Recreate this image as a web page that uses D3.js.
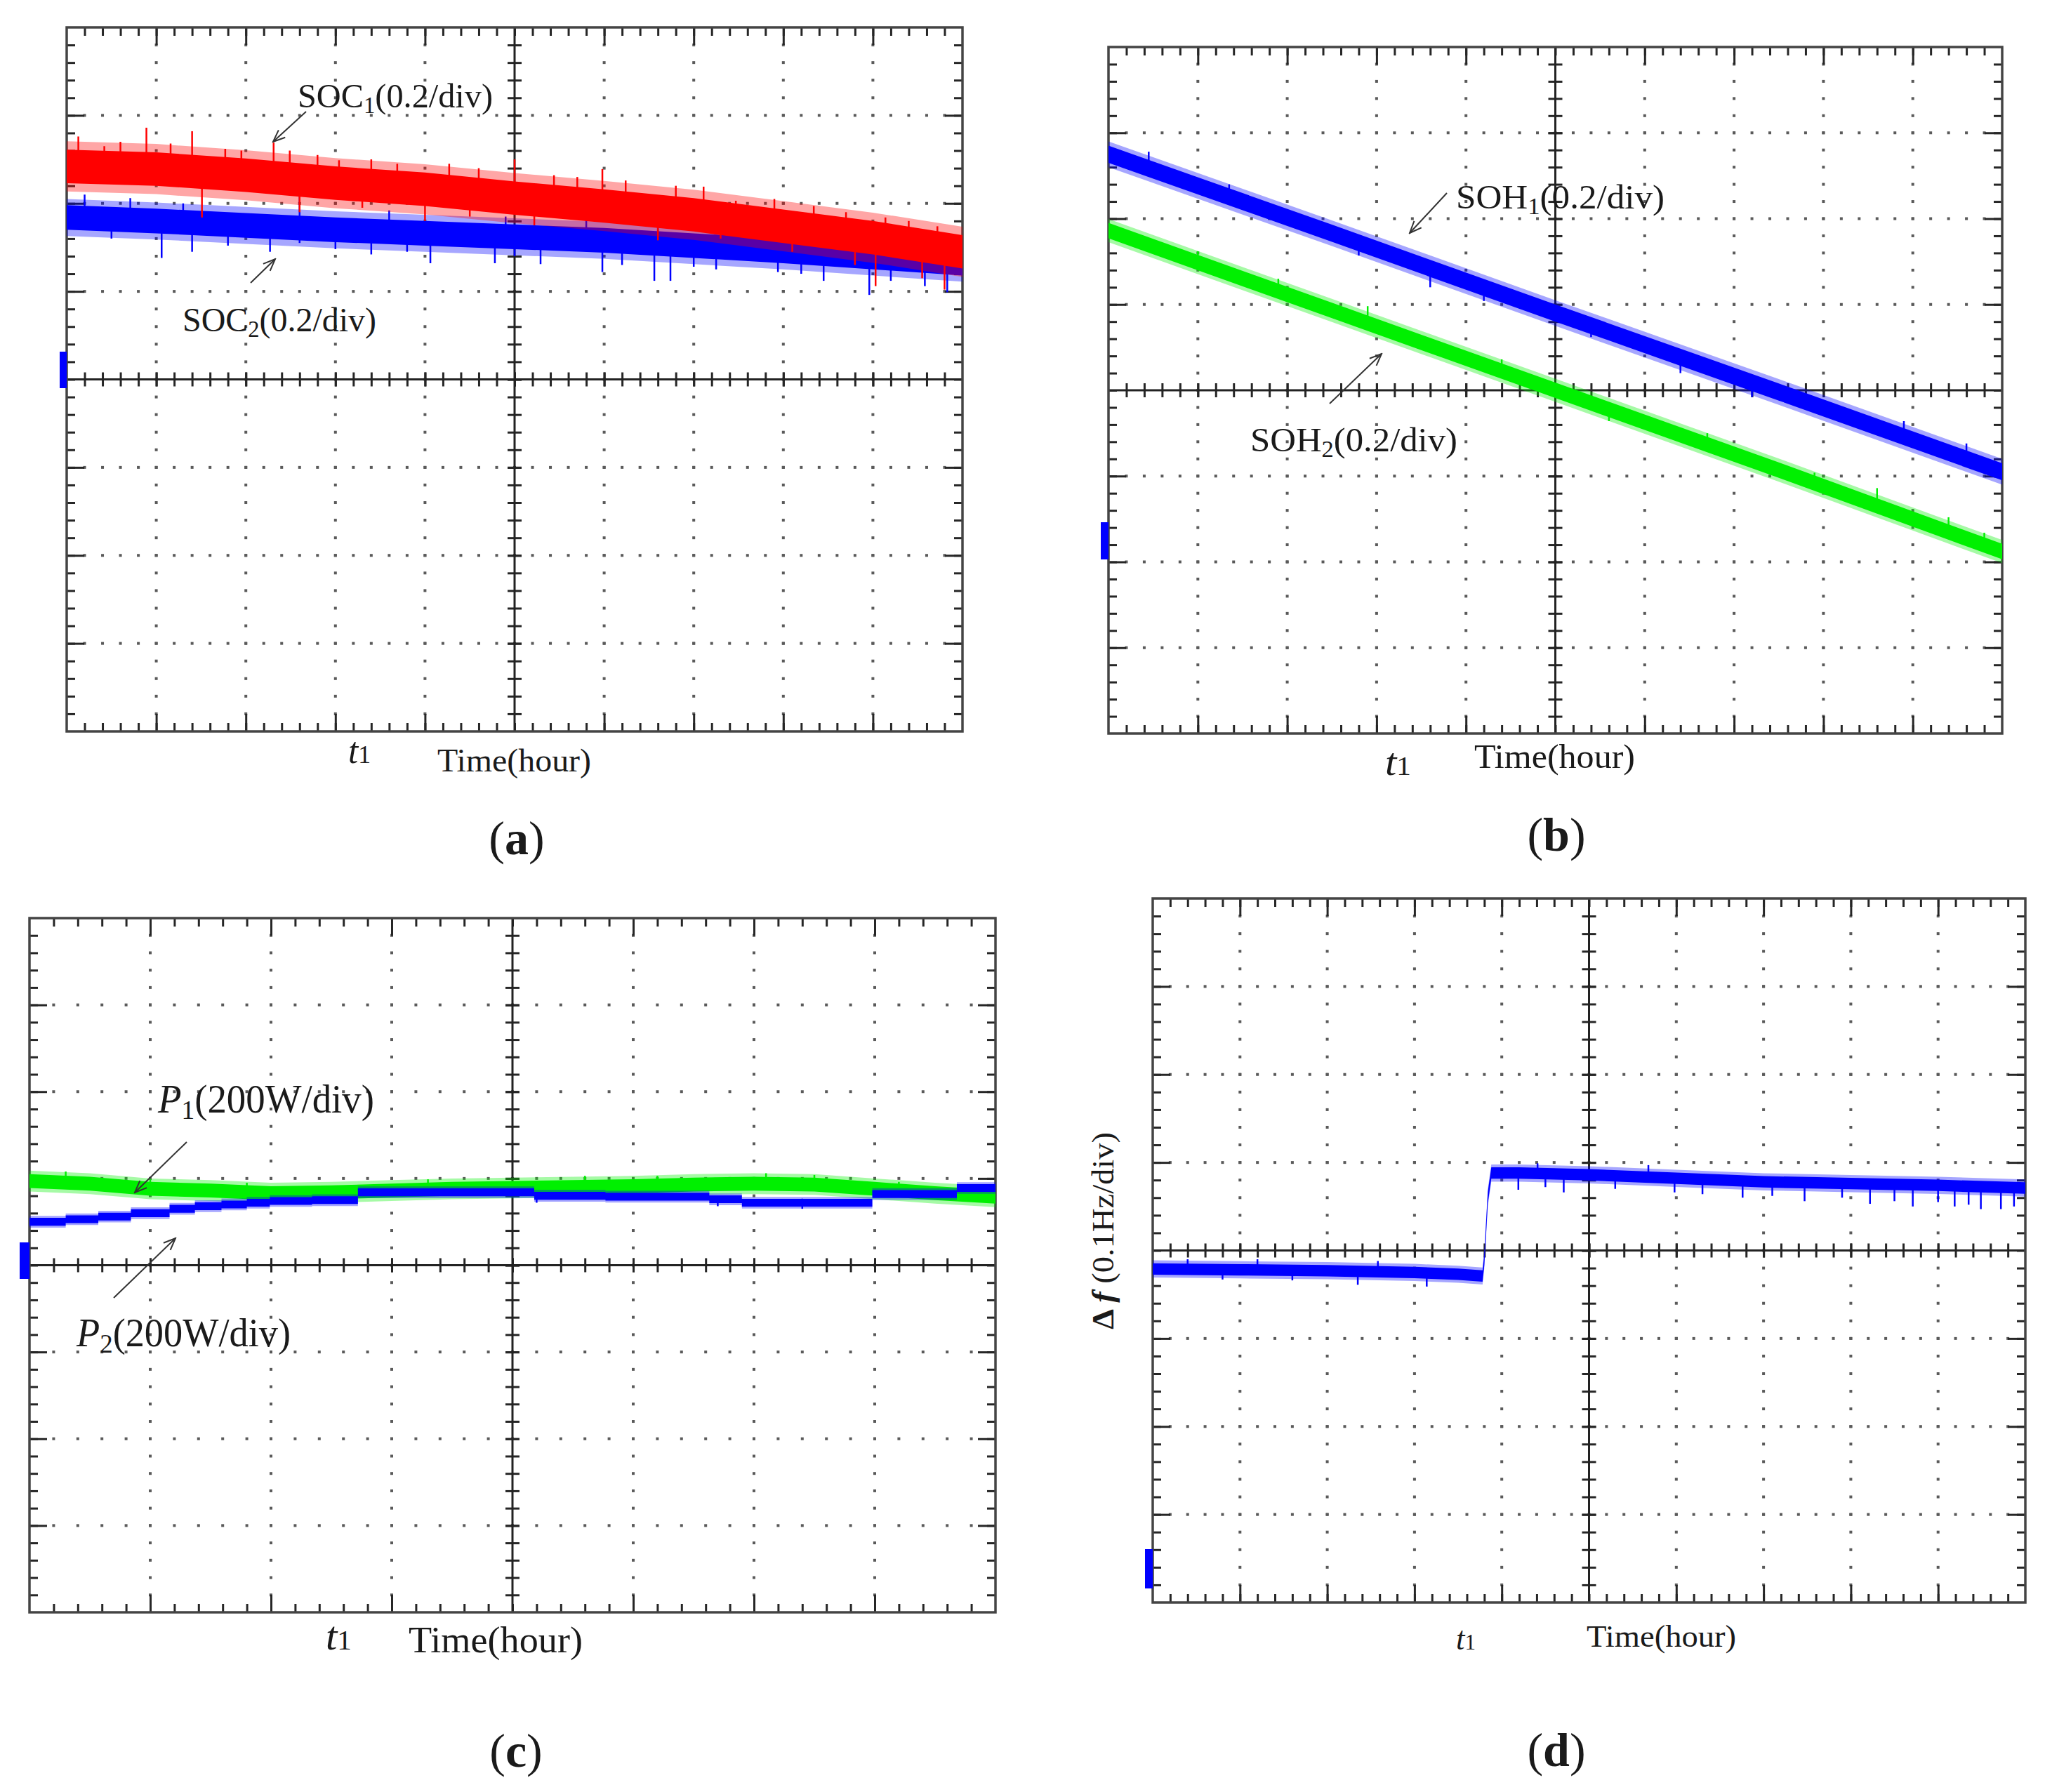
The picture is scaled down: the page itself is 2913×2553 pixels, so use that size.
<!DOCTYPE html>
<html>
<head>
<meta charset="utf-8">
<script src="https://cdn.jsdelivr.net/npm/d3@7"></script>
<style>
  body { margin: 0; background: #ffffff; }
  .tick line { stroke: #262626; stroke-width: 3; }
  text { font-family: 'Liberation Serif', 'Times New Roman', serif; fill: #1a1a1a; }
</style>
</head>
<body>
<div id="chart"></div>
<script>
// all trace values are in scope divisions, measured from the centre line

// (a) state of charge
const socTime = [0, 1, 2, 3, 4, 5, 6, 7, 8, 9, 10]
const soc1 = [2.42, 2.39, 2.32, 2.23, 2.16, 2.06, 1.97, 1.87, 1.74, 1.61, 1.45]
const soc2 = [1.84, 1.8, 1.75, 1.7, 1.66, 1.62, 1.58, 1.52, 1.46, 1.39, 1.32]
const soc1Spikes = [
  [0.13, 2.76], [0.42, 2.65], [0.89, 2.86], [1.16, 2.68], [1.4, 2.82], [1.77, 2.62],
  [2.31, 2.69], [2.49, 2.6], [3.04, 2.49], [3.69, 2.45], [4.27, 2.45], [5.0, 2.5],
  [5.44, 2.32], [5.98, 2.39], [6.24, 2.26], [7.11, 2.19], [7.47, 2.03], [8.34, 1.97],
  [9.14, 1.84], [9.72, 1.74], [1.51, 1.84], [2.6, 1.9], [4.0, 1.8], [5.22, 1.75],
  [6.6, 1.58], [9.03, 1.06], [9.8, 1.02], [0.6, 2.7], [1.95, 2.6], [2.8, 2.55],
  [3.4, 2.5], [4.6, 2.4], [5.7, 2.3], [6.8, 2.2], [7.9, 2.05], [8.7, 1.9], [9.4, 1.8],
  [3.3, 1.95], [4.5, 1.85], [7.3, 1.6], [8.1, 1.45], [8.8, 1.3], [9.55, 1.15],
]
const soc2Spikes = [
  [1.06, 1.38], [1.4, 1.45], [2.27, 1.45], [2.6, 1.55], [3.4, 1.42], [4.06, 1.32],
  [4.78, 1.32], [5.29, 1.31], [5.98, 1.22], [6.56, 1.12], [6.74, 1.12], [7.25, 1.25],
  [7.94, 1.22], [8.45, 1.12], [8.96, 0.96], [9.58, 1.06], [9.83, 0.99], [0.2, 2.1],
  [0.71, 2.06], [2.6, 2.1], [5.8, 1.9], [6.6, 1.97], [7.68, 1.74], [0.5, 1.6],
  [1.8, 1.52], [3.0, 1.48], [3.8, 1.45], [5.0, 1.4], [6.2, 1.3], [7.0, 1.28],
  [8.2, 1.2], [9.2, 1.12], [1.3, 2.0], [3.6, 1.92], [4.9, 1.85],
]

// (b) state of health
const sohTime = [0, 2.5, 5, 7.5, 10]
const soh1 = [2.75, 1.83, 0.9, -0.02, -0.95]
const soh2 = [1.86, 0.93, 0.0, -0.93, -1.88]
const soh1Spikes = [
  [0.45, 2.78], [1.35, 2.4], [2.8, 1.57], [3.6, 1.2], [4.2, 1.04], [5.4, 0.62],
  [6.4, 0.2], [7.2, -0.08], [8.9, -0.36], [9.6, -0.62],
]
const soh2Spikes = [
  [1.0, 1.62], [1.9, 1.3], [2.9, 0.98], [4.4, 0.36], [5.6, -0.36], [6.7, -0.5],
  [7.9, -0.96], [8.6, -1.14], [9.4, -1.48], [9.8, -1.66],
]

// (c) output power
const p1Time = [0, 0.5, 1, 1.5, 2, 2.5, 3, 3.5, 4, 4.5, 5, 5.5, 6, 6.5, 7, 7.5, 8]
const p1 = [0.97, 0.94, 0.88, 0.86, 0.83, 0.84, 0.86, 0.88, 0.89, 0.9, 0.91, 0.93, 0.94, 0.93, 0.88, 0.83, 0.79]
const p2Time = [0, 0.3, 0.57, 0.84, 1.16, 1.37, 1.59, 1.8, 1.99, 2.34, 2.72, 4.18, 4.77, 5.63, 5.9, 6.98, 7.68, 8]
const p2 = [0.5, 0.53, 0.56, 0.6, 0.65, 0.68, 0.7, 0.72, 0.74, 0.75, 0.84, 0.8, 0.79, 0.76, 0.72, 0.82, 0.89, 0.89]
const p1Spikes = [
  [0.3, 1.08], [1.0, 0.99], [1.8, 0.95], [3.3, 0.99], [4.6, 1.03], [5.2, 1.03],
  [6.1, 1.06], [6.5, 1.04], [7.2, 0.96],
]
const p2Spikes = [[4.2, 0.72], [5.7, 0.68], [6.4, 0.65]]

// (d) frequency deviation
const dfTime = [0, 1, 2, 3, 3.5, 3.78, 3.8, 3.84, 3.88, 4.2, 5, 6, 7, 8, 9, 10]
const df = [-0.21, -0.22, -0.23, -0.25, -0.27, -0.29, -0.1, 0.6, 0.88, 0.88, 0.86, 0.82, 0.78, 0.76, 0.74, 0.71]
const dfSpikes = [
  [2.35, -0.39], [2.58, -0.12], [3.14, -0.41], [4.19, 0.69], [4.41, 0.99], [4.71, 0.66],
  [5.68, 0.97], [5.98, 0.66], [6.76, 0.6], [7.47, 0.56], [8.22, 0.53], [8.71, 0.5],
  [9.19, 0.5], [9.49, 0.47], [9.72, 0.47], [9.87, 0.5], [4.5, 0.72], [5.3, 0.7],
  [6.3, 0.64], [7.1, 0.62], [7.9, 0.6], [8.5, 0.56], [9.0, 0.55], [9.35, 0.52],
  [0.8, -0.33], [1.6, -0.34], [0.4, -0.1], [1.2, -0.1],
]

const RED = '#ff0000'
const BLUE = '#0000ff'
const GREEN = '#00f000'

const panels = {
  a: { x0: 95, x1: 1371, y0: 39, y1: 1042, nx: 10, ny: 8 },
  b: { x0: 1579, x1: 2852, y0: 67, y1: 1045, nx: 10, ny: 8 },
  c: { x0: 42, x1: 1418, y0: 1308, y1: 2297, nx: 8, ny: 8 },
  d: { x0: 1642, x1: 2885, y0: 1280, y1: 2283, nx: 10, ny: 8 },
}

const svg = d3.select('#chart').append('svg').attr('width', 2913).attr('height', 2553)
svg.append('rect').attr('width', 2913).attr('height', 2553).attr('fill', '#ffffff')

svg
  .append('defs')
  .append('marker')
  .attr('id', 'arrow')
  .attr('viewBox', '0 0 20 20')
  .attr('refX', 18)
  .attr('refY', 10)
  .attr('markerWidth', 20)
  .attr('markerHeight', 20)
  .attr('markerUnits', 'userSpaceOnUse')
  .attr('orient', 'auto')
  .append('path')
  .attr('d', 'M1,3 L18,10 L1,17')
  .attr('fill', 'none')
  .attr('stroke', '#333')
  .attr('stroke-width', 2)

const drawScope = (id) => {
  const p = panels[id]
  const x = d3.scaleLinear().domain([0, p.nx]).range([p.x0, p.x1])
  const y = d3.scaleLinear().domain([-p.ny / 2, p.ny / 2]).range([p.y1, p.y0])
  const minorX = d3.range(1, p.nx * 5).map((i) => i / 5)
  const minorY = d3.range(1, p.ny * 5).map((i) => i / 5 - p.ny / 2)
  const majorX = d3.range(1, p.nx).filter((i) => i !== p.nx / 2)
  const majorY = d3.range(1, p.ny).map((i) => i - p.ny / 2).filter((v) => v !== 0)

  const g = svg.append('g')

  // dotted graticule
  const dots = []
  majorX.forEach((mx) => minorY.forEach((my) => dots.push([mx, my])))
  majorY.forEach((my) => minorX.forEach((mx) => dots.push([mx, my])))
  g.selectAll(null)
    .data(dots)
    .join('rect')
    .attr('x', (d) => x(d[0]) - 2)
    .attr('y', (d) => y(d[1]) - 2)
    .attr('width', 4)
    .attr('height', 4)
    .attr('fill', '#5a5a5a')

  const ticks = (axis, values, size, transform) =>
    g
      .append('g')
      .attr('transform', transform)
      .call(axis.tickValues(values).tickSize(size).tickSizeOuter(0).tickFormat(''))
      .call((s) => s.select('.domain').remove())

  const allX = d3.range(1, p.nx).concat(minorX)
  const allY = d3.range(1, p.ny).map((i) => i - p.ny / 2).concat(minorY)
  // frame ticks, minor then major
  ticks(d3.axisBottom(x), minorX, 12, `translate(0,${p.y0})`)
  ticks(d3.axisBottom(x), majorX, 25, `translate(0,${p.y0})`)
  ticks(d3.axisTop(x), minorX, 12, `translate(0,${p.y1})`)
  ticks(d3.axisTop(x), majorX, 25, `translate(0,${p.y1})`)
  ticks(d3.axisRight(y), minorY, 12, `translate(${p.x0},0)`)
  ticks(d3.axisRight(y), majorY, 25, `translate(${p.x0},0)`)
  ticks(d3.axisLeft(y), minorY, 12, `translate(${p.x1},0)`)
  ticks(d3.axisLeft(y), majorY, 25, `translate(${p.x1},0)`)
  // centre cross ticks on both sides
  ticks(d3.axisBottom(x), allX, 10, `translate(0,${y(0)})`)
  ticks(d3.axisTop(x), allX, 10, `translate(0,${y(0)})`)
  ticks(d3.axisLeft(y), allY, 10, `translate(${x(p.nx / 2)},0)`)
  ticks(d3.axisRight(y), allY, 10, `translate(${x(p.nx / 2)},0)`)

  g.append('line')
    .attr('x1', p.x0).attr('x2', p.x1)
    .attr('y1', y(0)).attr('y2', y(0))
    .attr('stroke', '#222').attr('stroke-width', 3)
  g.append('line')
    .attr('x1', x(p.nx / 2)).attr('x2', x(p.nx / 2))
    .attr('y1', p.y0).attr('y2', p.y1)
    .attr('stroke', '#222').attr('stroke-width', 3)
  g.append('rect')
    .attr('x', p.x0).attr('y', p.y0)
    .attr('width', p.x1 - p.x0).attr('height', p.y1 - p.y0)
    .attr('fill', 'none').attr('stroke', '#444').attr('stroke-width', 3.5)

  svg.select('defs')
    .append('clipPath').attr('id', `clip-${id}`)
    .append('rect')
    .attr('x', p.x0).attr('y', p.y0)
    .attr('width', p.x1 - p.x0).attr('height', p.y1 - p.y0)
  const traces = svg.append('g').attr('clip-path', `url(#clip-${id})`)

  return { x, y, traces }
}

const drawTrace = ({ x, y, traces }, times, mids, spread, color, curve = d3.curveLinear) => {
  const idx = d3.range(times.length)
  const area = (s) =>
    d3.area()
      .x((i) => x(times[i]))
      .y0((i) => y(mids[i] - s))
      .y1((i) => y(mids[i] + s))
      .curve(curve)
  traces.append('path').attr('d', area(spread * 1.5)(idx)).attr('fill', color).attr('opacity', 0.35)
  traces.append('path').attr('d', area(spread)(idx)).attr('fill', color)
}

const drawSpikes = ({ x, y, traces }, times, mids, spikes, color) => {
  const mid = d3.scaleLinear().domain(times).range(mids)
  traces
    .selectAll(null)
    .data(spikes)
    .join('line')
    .attr('x1', (d) => x(d[0]))
    .attr('x2', (d) => x(d[0]))
    .attr('y1', (d) => y(mid(d[0])))
    .attr('y2', (d) => y(d[1]))
    .attr('stroke', color)
    .attr('stroke-width', 2.5)
}

const writeLabel = ({ x, y, width, anchor = 'start', rotate = 0, parts }) => {
  const text = svg
    .append('text')
    .attr('transform', `translate(${x},${y}) rotate(${rotate})`)
    .attr('text-anchor', anchor)
  if (width) text.attr('textLength', width).attr('lengthAdjust', 'spacingAndGlyphs')
  parts.forEach((p) => {
    text
      .append('tspan')
      .attr('font-size', p.size)
      .attr('dy', p.dy || 0)
      .attr('font-style', p.italic ? 'italic' : null)
      .attr('font-weight', p.bold ? 'bold' : null)
      .text(p.t)
  })
}

const drawArrow = (x1, y1, x2, y2) => {
  svg
    .append('line')
    .attr('x1', x1).attr('y1', y1)
    .attr('x2', x2).attr('y2', y2)
    .attr('stroke', '#333')
    .attr('stroke-width', 2)
    .attr('marker-end', 'url(#arrow)')
}

const groundMark = (x, y, w, h) => {
  svg.append('rect').attr('x', x).attr('y', y).attr('width', w).attr('height', h).attr('fill', BLUE)
}

const subLabel = (main, sub, rest, size, italic = false) => [
  { t: main, size, italic },
  { t: sub, size: size * 0.68, dy: size * 0.16 },
  { t: rest, size, dy: -size * 0.16 },
]

const tLabel = (size) => [
  { t: 't', size, italic: true },
  { t: '1', size: size * 0.7 },
]

const caption = (x, y, letter) =>
  writeLabel({
    x, y, anchor: 'middle',
    parts: [{ t: '(', size: 68 }, { t: letter, size: 68, bold: true }, { t: ')', size: 68 }],
  })

// (a)
const sa = drawScope('a')
drawTrace(sa, socTime, soc2, 0.14, BLUE)
drawSpikes(sa, socTime, soc2, soc2Spikes, BLUE)
drawTrace(sa, socTime, soc1, 0.19, RED)
drawSpikes(sa, socTime, soc1, soc1Spikes, RED)
groundMark(85, 501, 10, 52)
writeLabel({ x: 424, y: 153, width: 278, parts: subLabel('SOC', '1', '(0.2/div)', 48) })
writeLabel({ x: 260, y: 472, width: 276, parts: subLabel('SOC', '2', '(0.2/div)', 48) })
drawArrow(436, 159, 389, 202)
drawArrow(357, 403, 392, 369)
writeLabel({ x: 496, y: 1087, width: 32, parts: tLabel(52) })
writeLabel({ x: 623, y: 1099, width: 219, parts: [{ t: 'Time(hour)', size: 47 }] })
caption(736, 1217, 'a')

// (b)
const sb = drawScope('b')
drawTrace(sb, sohTime, soh1, 0.1, BLUE)
drawSpikes(sb, sohTime, soh1, soh1Spikes, BLUE)
drawTrace(sb, sohTime, soh2, 0.09, GREEN)
drawSpikes(sb, sohTime, soh2, soh2Spikes, GREEN)
groundMark(1568, 744, 11, 53)
writeLabel({ x: 2074, y: 297, width: 297, parts: subLabel('SOH', '1', '(0.2/div)', 48) })
writeLabel({ x: 1781, y: 643, width: 295, parts: subLabel('SOH', '2', '(0.2/div)', 48) })
drawArrow(2061, 275, 2008, 332)
drawArrow(1894, 575, 1968, 504)
writeLabel({ x: 1973, y: 1104, width: 37, parts: tLabel(54) })
writeLabel({ x: 2100, y: 1094, width: 229, parts: [{ t: 'Time(hour)', size: 48 }] })
caption(2217, 1212, 'b')

// (c)
const sc = drawScope('c')
drawTrace(sc, p1Time, p1, 0.08, GREEN)
drawSpikes(sc, p1Time, p1, p1Spikes, GREEN)
drawTrace(sc, p2Time, p2, 0.045, BLUE, d3.curveStepAfter)
drawSpikes(sc, p2Time, p2, p2Spikes, BLUE)
groundMark(28, 1770, 14, 52)
writeLabel({ x: 225, y: 1585, width: 308, parts: subLabel('P', '1', '(200W/div)', 56, true) })
writeLabel({ x: 109, y: 1918, width: 305, parts: subLabel('P', '2', '(200W/div)', 56, true) })
drawArrow(266, 1627, 192, 1699)
drawArrow(162, 1849, 250, 1764)
writeLabel({ x: 464, y: 2350, width: 37, parts: tLabel(56) })
writeLabel({ x: 582, y: 2354, width: 248, parts: [{ t: 'Time(hour)', size: 53 }] })
caption(735, 2517, 'c')

// (d)
const sd = drawScope('d')
drawTrace(sd, dfTime, df, 0.065, BLUE)
drawSpikes(sd, dfTime, df, dfSpikes, BLUE)
groundMark(1631, 2207, 11, 56)
writeLabel({
  x: 1586, y: 1894, width: 281, rotate: -90,
  parts: [
    { t: 'Δ ', size: 44, bold: true },
    { t: 'f', size: 44, bold: true, italic: true },
    { t: ' (0.1Hz/div)', size: 44 },
  ],
})
writeLabel({ x: 2074, y: 2350, width: 28, parts: tLabel(46) })
writeLabel({ x: 2260, y: 2346, width: 213, parts: [{ t: 'Time(hour)', size: 45 }] })
caption(2217, 2516, 'd')
</script>
</body>
</html>
